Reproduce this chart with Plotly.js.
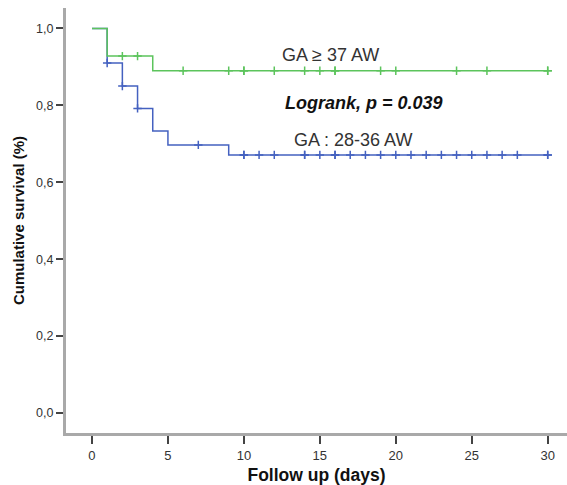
<!DOCTYPE html>
<html>
<head>
<meta charset="utf-8">
<script src="https://cdn.plot.ly/plotly-3.0.1.min.js"></script>
<style>html,body{margin:0;padding:0;background:#fff;}#chart{width:567px;height:485px;}</style>
</head>
<body>
<div id="chart"></div>
<script>
// Group GA >= 37 AW (green)
const greenTimes = [0, 1, 4, 30];
const greenSurv = [1.0, 0.928, 0.89, 0.89];
const greenCensor = [2, 3, 6, 9, 10, 10, 12, 14, 15, 16, 16, 19, 20, 24, 26, 30, 30];

// Group GA 28-36 AW (blue)
const blueTimes = [0, 1, 2, 3, 4, 5, 9, 30];
const blueSurv = [1.0, 0.91, 0.85, 0.792, 0.733, 0.697, 0.671, 0.671];
const blueCensor = [1, 2, 3, 7, 10, 10, 11, 12, 14, 14, 15, 16, 16, 17, 18, 19, 20, 21, 22, 23, 24, 25, 26, 27, 28, 30, 30];

const xTicks = [0, 5, 10, 15, 20, 25, 30];
const yTicks = [0, 0.2, 0.4, 0.6, 0.8, 1.0];

const greenColor = '#5cc45c';
const blueColor = '#4461c0';

function survAt(times, surv, t) {
  let s = surv[0];
  for (let i = 0; i < times.length; i++) { if (times[i] <= t) s = surv[i]; }
  return s;
}

const traces = [
  {x: blueTimes, y: blueSurv, type: 'scatter', mode: 'lines', line: {shape: 'hv', color: blueColor, width: 1.5}, hoverinfo: 'skip'},
  {x: blueCensor, y: blueCensor.map(t => survAt(blueTimes, blueSurv, t)), type: 'scatter', mode: 'markers',
   marker: {symbol: 'cross-thin-open', size: 6, color: blueColor, line: {color: blueColor, width: 1.5}}, hoverinfo: 'skip'},
  {x: greenTimes, y: greenSurv, type: 'scatter', mode: 'lines', line: {shape: 'hv', color: greenColor, width: 1.5}, hoverinfo: 'skip'},
  {x: greenCensor, y: greenCensor.map(t => survAt(greenTimes, greenSurv, t)), type: 'scatter', mode: 'markers',
   marker: {symbol: 'cross-thin-open', size: 6, color: greenColor, line: {color: greenColor, width: 1.5}}, hoverinfo: 'skip'}
];

const font = 'Liberation Sans, Arial, sans-serif';

const layout = {
  width: 567, height: 485,
  margin: {l: 66, r: 0, t: 8, b: 52},
  paper_bgcolor: '#fff', plot_bgcolor: '#fff',
  showlegend: false,
  separators: ',.',
  font: {family: font, size: 12, color: '#333'},
  xaxis: {
    range: [-1.71, 31.27], tickvals: xTicks, ticktext: xTicks.map(String),
    showgrid: false, zeroline: false, showline: true, linecolor: '#a9a9a9', linewidth: 3,
    ticks: 'outside', ticklen: 8, tickwidth: 2, tickcolor: '#444',
    tickfont: {family: font, size: 13, color: '#333'},
    title: {text: 'Follow up (days)', font: {family: font, size: 17.5, color: '#111', weight: 'bold'}, standoff: 8}
  },
  yaxis: {
    range: [-0.052, 1.053], tickvals: yTicks, tickformat: '.1f',
    showgrid: false, zeroline: false, showline: true, linecolor: '#a9a9a9', linewidth: 3,
    ticks: 'outside', ticklen: 7, tickwidth: 2, tickcolor: '#444',
    tickfont: {family: font, size: 12.5, color: '#333'},
    title: {text: 'Cumulative survival (%)', font: {family: font, size: 15, color: '#111', weight: 'bold'}, standoff: 8}
  },
  annotations: [
    {x: 15.7, y: 0.931, xref: 'x', yref: 'y', text: 'GA ≥ 37 AW', showarrow: false, font: {family: font, size: 18, color: '#333'}},
    {x: 17.9, y: 0.806, xref: 'x', yref: 'y', text: '<b><i>Logrank, p = 0.039</i></b>', showarrow: false, font: {family: font, size: 18, color: '#111'}},
    {x: 17.2, y: 0.71, xref: 'x', yref: 'y', text: 'GA : 28-36 AW', showarrow: false, font: {family: font, size: 18, color: '#333'}}
  ]
};

Plotly.newPlot('chart', traces, layout, {displayModeBar: false, staticPlot: true});
</script>
</body>
</html>
